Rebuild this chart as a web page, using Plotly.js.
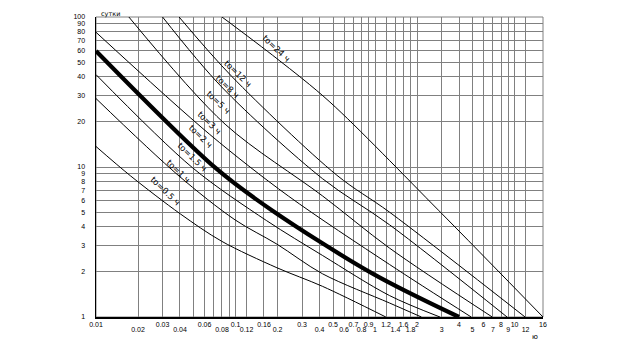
<!DOCTYPE html>
<html>
<head>
<meta charset="utf-8">
<script src="https://cdn.plot.ly/plotly-3.0.1.min.js"></script>
<style>html,body{margin:0;padding:0;background:#fff;}#chart{width:636px;height:352px;}</style>
</head>
<body>
<div id="chart"></div>
<script>
// ---- tick data ----
const xGridVals = [0.01,0.02,0.03,0.04,0.05,0.06,0.07,0.08,0.09,0.1,0.12,0.16,0.2,0.3,0.4,0.5,0.6,0.7,0.8,0.9,1,1.2,1.4,1.6,1.8,2,3,4,5,6,7,8,9,10,12,16];
const xTopRow = [0.01,0.03,0.06,0.1,0.16,0.3,0.5,0.7,0.9,1.2,1.6,2,4,6,8,10,16];
const xBottomRow = [0.02,0.04,0.08,0.12,0.2,0.4,0.6,0.8,1,1.4,1.8,3,5,7,9,12];
const yTickVals = [1,2,3,4,5,6,7,8,9,10,20,30,40,50,60,70,80,90,100];
const yTickText = ['1','2','3','4','5','6','7','8','9','10','20','30','40','50','60','70','80','90','100'];

// ---- curve data (x, y) ----
const t24X = [0.08, 0.198, 0.475, 2.85, 16];
const t24Y = [100, 52.8, 27.1, 5.15, 1];
const t12X = [0.0394, 0.0942, 0.533, 1.27, 11.9];
const t12Y = [100, 40.1, 8.81, 5, 1];
const t8X = [0.03, 0.0795, 0.421, 1.27, 8.84];
const t8Y = [100, 34.2, 8.35, 4.12, 1];
const t5X = [0.0172, 0.0842, 0.421, 1.27, 6.92];
const t5Y = [100, 19.3, 6.41, 2.88, 1];
const t3X = [0.01, 0.0653, 0.239, 1.27, 4.89];
const t3Y = [79.1, 16.5, 6.41, 2.24, 1];
const t2X = [0.01, 0.0722, 0.182, 0.976, 4];
const t2Y = [59.4, 9.82, 5.15, 1.93, 1];
const t15X = [0.01, 0.0491, 0.167, 0.421, 1.27, 2.92];
const t15Y = [41.3, 9.9, 4.39, 2.57, 1.39, 1];
const t1X = [0.01, 0.0388, 0.0993, 0.198, 0.421, 1.27, 2.15];
const t1Y = [28.6, 8.81, 4.44, 3.06, 1.94, 1.24, 1];
const t05X = [0.01, 0.0177, 0.0402, 0.0795, 0.198, 0.421, 1.195];
const t05Y = [13.7, 8.72, 4.87, 3.2, 2.13, 1.6, 1];

// ---- curve labels ----
const labelText = ['to=24 ч','to=12 ч','to=8 ч','to=5 ч','to=3 ч','to=2 ч','to=1.5 ч','to=1 ч','to=0.5 ч'];
const labelX = [0.194, 0.105, 0.0882, 0.075, 0.0653, 0.0558, 0.0491, 0.0388, 0.0315];
const labelY = [61.7, 41.9, 34.2, 27.1, 19.7, 16.0, 11.7, 9.39, 6.94];

const curves = [
  [t24X,t24Y,1],[t12X,t12Y,1],[t8X,t8Y,1],[t5X,t5Y,1],[t3X,t3Y,1],
  [t2X,t2Y,4.2],[t15X,t15Y,1],[t1X,t1Y,1],[t05X,t05Y,1]
];

const traces = curves.map(c => ({
  x: c[0], y: c[1], type: 'scatter', mode: 'lines',
  line: {color: '#000', width: c[2], shape: 'spline', smoothing: 0.9},
  hoverinfo: 'skip'
}));
// invisible helper so the second (label-only) x axis is drawn
traces.push({x: [0.01, 16], y: [1, 1], xaxis: 'x2', yaxis: 'y', type: 'scatter',
  mode: 'lines', line: {color: 'rgba(0,0,0,0)', width: 0}, hoverinfo: 'skip'});

const xRange = [Math.log10(0.01) - 1e-6, Math.log10(16) + 1e-6];
const tickFont = {family: 'Liberation Sans, Arial, sans-serif', size: 7, color: '#000'};

const annotations = labelText.map((t, i) => ({
  x: Math.log10(labelX[i]), y: Math.log10(labelY[i]), xref: 'x', yref: 'y',
  text: t, showarrow: false, textangle: 44,
  font: {family: 'DejaVu Sans, sans-serif', size: 8.5, color: '#000'}
}));
annotations.push({x: 0.007, y: 1.03, xref: 'paper', yref: 'paper', text: 'сутки',
  showarrow: false, font: {family: 'DejaVu Sans, sans-serif', size: 6.5, color: '#000'}});
annotations.push({x: 0.994, y: -0.085, xref: 'paper', yref: 'paper', text: 'ю',
  showarrow: false, font: {family: 'DejaVu Sans, sans-serif', size: 7, color: '#000'}});

const layout = {
  width: 636, height: 352,
  margin: {l: 96, r: 93, t: 17, b: 35, pad: 0},
  paper_bgcolor: '#fff', plot_bgcolor: '#fff',
  showlegend: false, hovermode: false,
  xaxis: {
    type: 'log', range: xRange,
    tickmode: 'array', tickvals: xTopRow, ticktext: xTopRow.map(String), tickangle: 0,
    showgrid: false,
    showline: true, linecolor: '#000', linewidth: 1.5,
    ticks: '', ticklabelstandoff: 0, tickfont: tickFont, zeroline: false
  },
  xaxis2: {
    type: 'log', range: xRange, overlaying: 'x', anchor: 'y', side: 'bottom',
    tickmode: 'array', tickvals: xBottomRow, ticktext: xBottomRow.map(String), tickangle: 0,
    showgrid: false, showline: false,
    ticks: '', ticklabelstandoff: 7, tickfont: tickFont, zeroline: false
  },
  yaxis: {
    type: 'log', range: [0 - 1e-6, 2 + 1e-6],
    tickmode: 'array', tickvals: yTickVals, ticktext: yTickText, tickangle: 0,
    showgrid: true, gridcolor: '#808080', gridwidth: 1,
    showline: true, linecolor: '#000', linewidth: 1.5,
    ticks: '', ticklabelstandoff: 8, tickfont: tickFont, zeroline: false
  },
  xaxis3: {
    type: 'log', range: xRange, overlaying: 'x', anchor: 'y', side: 'bottom',
    tickmode: 'array', tickvals: xGridVals, showticklabels: false,
    showgrid: true, gridcolor: '#808080', gridwidth: 1, layer: 'below traces',
    showline: false, ticks: '', zeroline: false
  },
  shapes: [{type: 'rect', xref: 'paper', yref: 'paper', x0: 0, x1: 1, y0: 0, y1: 1,
    line: {color: '#808080', width: 1}, layer: 'below'}],
  annotations: annotations
};
traces.push({x: [0.01, 16], y: [1, 1], xaxis: 'x3', yaxis: 'y', type: 'scatter',
  mode: 'lines', line: {color: 'rgba(0,0,0,0)', width: 0}, hoverinfo: 'skip'});

Plotly.newPlot('chart', traces, layout, {staticPlot: true, displayModeBar: false});
</script>
</body>
</html>
